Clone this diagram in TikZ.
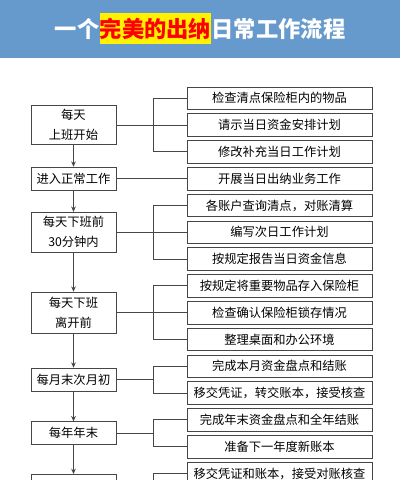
\documentclass[tikz,border=0pt]{standalone}
\usepackage{fontspec}
\setmainfont{Noto Sans CJK SC}
\definecolor{headblue}{RGB}{102,153,204}
\definecolor{linegray}{RGB}{70,70,70}
\usetikzlibrary{positioning, arrows.meta}

\begin{document}
\begin{tikzpicture}[x=0.75pt, y=-0.75pt,
  stage/.style={draw=linegray, line width=0.6pt, minimum width=63.75pt,
    minimum height=17.25pt, inner sep=1pt, align=center,
    font=\fontsize{9.2}{15}\selectfont},
  task/.style={draw=linegray, line width=0.6pt, minimum width=138.75pt,
    minimum height=16.9pt, inner sep=1pt, font=\fontsize{9.2}{11}\selectfont},
  tword/.style={inner xsep=0pt, inner ysep=0pt, minimum height=23.25pt,
    font=\fontsize{16.7}{20}\selectfont\bfseries},
  link/.style={draw=linegray, line width=0.6pt},
  flow/.style={link, -{Stealth[length=4pt, width=3.5pt]}},
]
\useasboundingbox (0,0) rectangle (400,480);
\clip (0,0) rectangle (400,480);

% Header band and title
\fill[headblue] (0,0) rectangle (400,58);
\node[tword, fill=yellow, text=red] (tmid) at (155.5,28.5) {完美的出纳};
\node[tword, text=white, left=0pt of tmid] (tleft) {一个};
\node[tword, text=white, right=0pt of tmid] (tright) {日常工作流程};

% Stages (left column)
\node[stage, minimum height=29.25pt] (l1) at (73.5,125.05) {每天\\上班开始};
\node[stage] (l2) at (73.5,178.65) {进入正常工作};
\node[stage, minimum height=30pt] (l3) at (73.5,232.25) {每天下班前\\30分钟内};
\node[stage, minimum height=30.75pt] (l4) at (73.5,312.65) {每天下班\\离开前};
\node[stage] (l5) at (73.5,379.65) {每月末次月初};
\node[stage] (l6) at (73.5,433.25) {每年年末};
\node[stage, minimum height=30pt, anchor=north] (l7) at (73.5,474) {};

% Tasks (right column)
\node[task] (r1) at (279.5,98.25) {检查清点保险柜内的物品};
\node[task] (r2) at (279.5,125.05) {请示当日资金安排计划};
\node[task] (r3) at (279.5,151.85) {修改补充当日工作计划};
\node[task] (r4) at (279.5,178.65) {开展当日出纳业务工作};
\node[task] (r5) at (279.5,205.45) {各账户查询清点，对账清算};
\node[task] (r6) at (279.5,232.25) {编写次日工作计划};
\node[task] (r7) at (279.5,259.05) {按规定报告当日资金信息};
\node[task] (r8) at (279.5,285.85) {按规定将重要物品存入保险柜};
\node[task] (r9) at (279.5,312.65) {检查确认保险柜锁存情况};
\node[task] (r10) at (279.5,339.45) {整理桌面和办公环境};
\node[task] (r11) at (279.5,366.25) {完成本月资金盘点和结账};
\node[task] (r12) at (279.5,393.05) {移交凭证，转交账本，接受核查};
\node[task] (r13) at (279.5,419.85) {完成年末资金盘点和全年结账};
\node[task] (r14) at (279.5,446.65) {准备下一年度新账本};
\node[task] (r15) at (279.5,473.45) {移交凭证和账本，接受对账核查};

% Arrows between stages
\draw[flow] (l1) -- (l2);
\draw[flow] (l2) -- (l3);
\draw[flow] (l3) -- (l4);
\draw[flow] (l4) -- (l5);
\draw[flow] (l5) -- (l6);
\draw[flow] (l6) -- (l7);

% Brackets from stages to tasks
\coordinate (bx) at (153,0);
\draw[link] (r1.west) -- (r1.west -| bx) -- (r3.west -| bx) -- (r3.west);
\draw[link] (l1.east) -- (r2.west);
\draw[link] (l2.east) -- (r4.west);
\draw[link] (r5.west) -- (r5.west -| bx) -- (r7.west -| bx) -- (r7.west);
\draw[link] (l3.east) -- (r6.west);
\draw[link] (r8.west) -- (r8.west -| bx) -- (r10.west -| bx) -- (r10.west);
\draw[link] (l4.east) -- (r9.west);
\draw[link] (r11.west) -- (r11.west -| bx) -- (r12.west -| bx) -- (r12.west);
\draw[link] (l5.east) -- (l5.east -| bx);
\draw[link] (r13.west) -- (r13.west -| bx) -- (r14.west -| bx) -- (r14.west);
\draw[link] (l6.east) -- (l6.east -| bx);
\draw[link] (r15.west) -- (r15.west -| bx) -- ++(0,20);
\end{tikzpicture}
\end{document}
